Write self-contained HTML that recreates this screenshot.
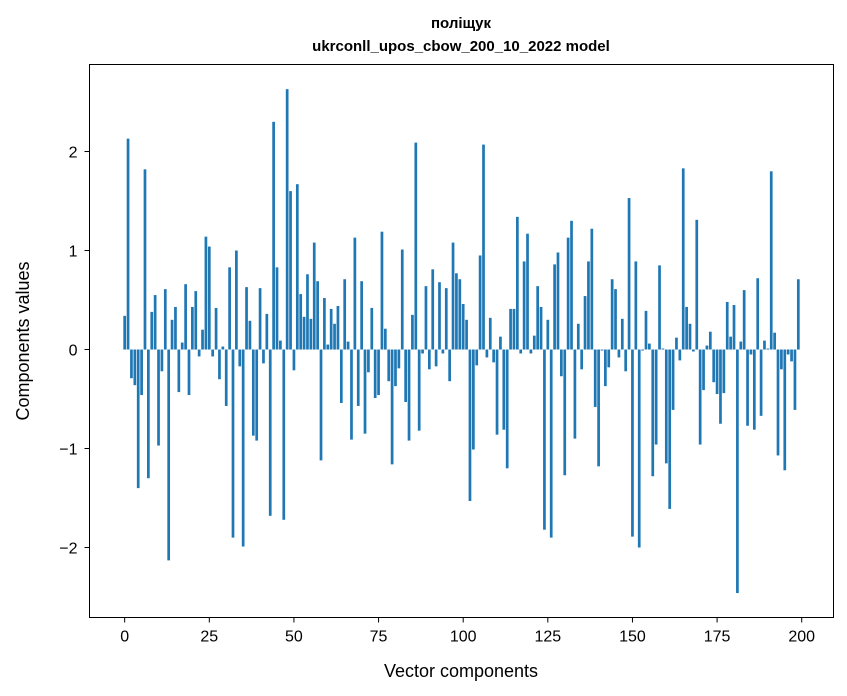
<!DOCTYPE html>
<html><head><meta charset="utf-8"><style>
html,body{margin:0;padding:0;background:#fff;}
svg{display:block;font-family:"Liberation Sans","DejaVu Sans",sans-serif;}
</style></head><body>
<svg id="chart" width="847" height="696" viewBox="0 0 847 696" xmlns="http://www.w3.org/2000/svg">
<rect x="0" y="0" width="847" height="696" fill="#fff"/>
<text x="461" y="28" text-anchor="middle" font-size="15" font-weight="bold">поліщук</text>
<text x="461" y="51" text-anchor="middle" font-size="15" font-weight="bold">ukrconll_upos_cbow_200_10_2022 model</text>
<g id="bars"></g>
<g id="xticks"></g>
<g id="yticks"></g>
<rect x="89.5" y="64.5" width="744" height="553" fill="none" stroke="#000" stroke-width="1"/>
<text x="461" y="677" text-anchor="middle" font-size="18">Vector components</text>
<text transform="translate(29,341) rotate(-90)" text-anchor="middle" font-size="18">Components values</text>
</svg>
<script>
const values = [0.34,2.13,-0.29,-0.36,-1.40,-0.46,1.82,-1.30,0.38,0.55,
-0.97,-0.22,0.61,-2.13,0.30,0.43,-0.43,0.07,0.66,-0.46,
0.43,0.59,-0.07,0.20,1.14,1.04,-0.07,0.42,-0.30,0.03,
-0.57,0.83,-1.90,1.00,-0.17,-1.99,0.63,0.29,-0.87,-0.92,
0.62,-0.14,0.36,-1.68,2.30,0.83,0.09,-1.72,2.63,1.60,
-0.21,1.67,0.56,0.33,0.76,0.31,1.08,0.69,-1.12,0.52,
0.05,0.41,0.26,0.44,-0.54,0.71,0.08,-0.91,1.13,-0.57,
0.69,-0.85,-0.23,0.42,-0.49,-0.46,1.19,0.21,-0.32,-1.16,
-0.37,-0.19,1.01,-0.53,-0.92,0.35,2.09,-0.82,-0.04,0.64,
-0.20,0.81,-0.17,0.68,-0.04,0.62,-0.32,1.08,0.77,0.71,
0.46,0.30,-1.53,-1.01,-0.16,0.95,2.07,-0.08,0.32,-0.13,
-0.86,0.13,-0.81,-1.20,0.41,0.41,1.34,-0.04,0.89,1.17,
-0.04,0.14,0.64,0.43,-1.82,0.30,-1.90,0.86,0.98,-0.27,
-1.27,1.13,1.30,-0.90,0.26,-0.20,0.54,0.89,1.22,-0.58,
-1.18,-0.01,-0.37,-0.18,0.71,0.61,-0.08,0.31,-0.22,1.53,
-1.89,0.89,-2.00,-0.01,0.39,0.06,-1.28,-0.96,0.85,0.01,
-1.15,-1.61,-0.61,0.12,-0.11,1.83,0.43,0.26,-0.02,1.31,
-0.96,-0.41,0.04,0.18,-0.33,-0.45,-0.75,-0.44,0.48,0.13,
0.45,-2.46,0.08,0.60,-0.77,-0.05,-0.81,0.72,-0.67,0.09,
0.01,1.80,0.17,-1.07,-0.20,-1.22,-0.05,-0.12,-0.61,0.71];
const xTickLabels = [0,25,50,75,100,125,150,175,200];
const yTickLabels = [-2,-1,0,1,2];

const L=89.5,R=833.5,T=64.5,B=617.5;
const xMin=-10.39,xMax=209.39,yMin=-2.707,yMax=2.879;
const xs=v=>L+(v-xMin)/(xMax-xMin)*(R-L);
const ys=v=>B-(v-yMin)/(yMax-yMin)*(B-T);
const NS="http://www.w3.org/2000/svg";
const barsG=document.getElementById('bars');
values.forEach((v,i)=>{
  const r=document.createElementNS(NS,'rect');
  const x0=xs(i-0.4),x1=xs(i+0.4);
  const y0=ys(Math.max(v,0)),y1=ys(Math.min(v,0));
  r.setAttribute('x',x0);r.setAttribute('width',x1-x0);
  r.setAttribute('y',y0);r.setAttribute('height',Math.max(y1-y0,0.01));
  r.setAttribute('fill','#1f77b4');
  
  
  barsG.appendChild(r);
});
const xg=document.getElementById('xticks');
xTickLabels.forEach(t=>{
  const x=xs(t);
  const l=document.createElementNS(NS,'line');
  l.setAttribute('x1',x);l.setAttribute('x2',x);l.setAttribute('y1',B);l.setAttribute('y2',B+5);
  l.setAttribute('stroke','#000');
  
  
  xg.appendChild(l);
  const tx=document.createElementNS(NS,'text');
  tx.setAttribute('x',x);tx.setAttribute('y',B+24);tx.setAttribute('text-anchor','middle');tx.setAttribute('font-size','16');
  tx.textContent=String(t);
  
  
  xg.appendChild(tx);
});
const yg=document.getElementById('yticks');
yTickLabels.forEach(t=>{
  const y=ys(t);
  const l=document.createElementNS(NS,'line');
  l.setAttribute('x1',L-5);l.setAttribute('x2',L);l.setAttribute('y1',y);l.setAttribute('y2',y);
  l.setAttribute('stroke','#000');
  
  
  yg.appendChild(l);
  const tx=document.createElementNS(NS,'text');
  tx.setAttribute('x',L-12);tx.setAttribute('y',y+6);tx.setAttribute('text-anchor','end');tx.setAttribute('font-size','16');
  tx.textContent=(t<0?'\u2212':'')+Math.abs(t);
  
  
  yg.appendChild(tx);
});
</script>
</body></html>
